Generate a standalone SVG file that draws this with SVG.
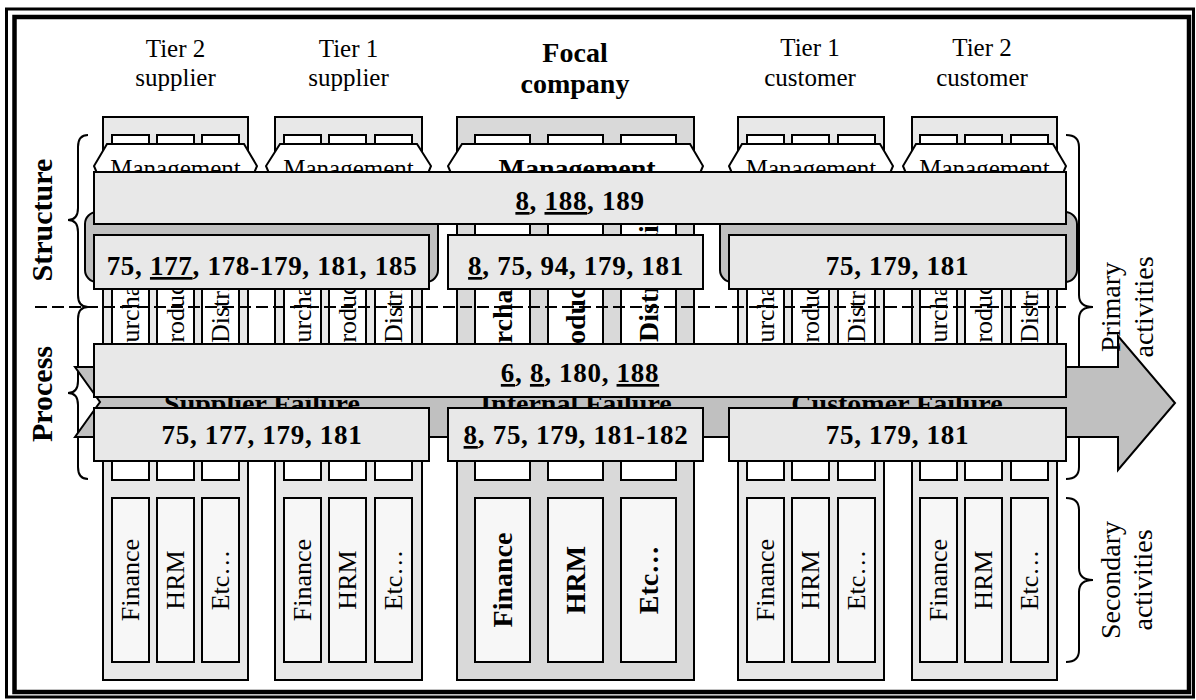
<svg xmlns="http://www.w3.org/2000/svg" width="1196" height="700" viewBox="0 0 1196 700">
<style>
text{font-family:"Liberation Serif","Times New Roman",serif;fill:#000}
.lbl{font-size:25px;text-anchor:middle}
.lblb{font-size:28px;font-weight:bold;text-anchor:middle}
.side{font-size:30px;font-weight:bold;text-anchor:middle}
.act{font-size:28px;text-anchor:middle}
.col{fill:#e8e8e8;stroke:#000;stroke-width:2}
.colf{fill:#d9d9d9;stroke:#000;stroke-width:2}
.sub{fill:#fff;stroke:#000;stroke-width:2}
.fin{fill:#f7f7f7;stroke:#000;stroke-width:2}
.mgmt{fill:#fff;stroke:#000;stroke-width:2}
.st{font-size:26px}
.stb{font-size:28px;font-weight:bold}
.mt{font-size:25px;text-anchor:middle}
.mtb{font-size:28px;font-weight:bold;text-anchor:middle}
.ft{font-size:26px;text-anchor:middle}
.ftb{font-size:28px;font-weight:bold;text-anchor:middle}
.band{fill:#e8e8e8;stroke:#000;stroke-width:2}
.bt{font-size:27px;font-weight:bold;text-anchor:middle;letter-spacing:0.7px}
.grey{fill:#c0c0c0;stroke:#000;stroke-width:2}
.fail{font-size:28px;font-weight:bold;text-anchor:middle}
.brace{fill:none;stroke:#000;stroke-width:2}
</style>

<g id="frame" fill="none" stroke="#000">
<rect x="6.5" y="9" width="1187" height="688" stroke-width="3"/>
<rect x="14.5" y="17" width="1174.5" height="675" stroke-width="4.5"/>
</g>

<g id="headers">
<text class="lbl" x="175.5" y="57">Tier 2</text>
<text class="lbl" x="175.5" y="86">supplier</text>
<text class="lbl" x="348.5" y="57">Tier 1</text>
<text class="lbl" x="348.5" y="86">supplier</text>
<text class="lblb" x="575" y="62">Focal</text>
<text class="lblb" x="575" y="93">company</text>
<text class="lbl" x="810" y="56">Tier 1</text>
<text class="lbl" x="810" y="86">customer</text>
<text class="lbl" x="982" y="56">Tier 2</text>
<text class="lbl" x="982" y="86">customer</text>
</g>

<g id="braces" class="brace">
<path class="brace" d="M88,135 Q78,135 78,147 L78,208 Q78,220 68,220 Q78,220 78,232 L78,295 Q78,307 88,307"/>
<path class="brace" d="M88,307 Q78,307 78,319 L78,381 Q78,393 68,393 Q78,393 78,405 L78,467 Q78,479 88,479"/>
<path class="brace" d="M1066,135 Q1079,135 1079,147 L1079,295 Q1079,307 1093,307 Q1079,307 1079,319 L1079,467 Q1079,479 1066,479"/>
<path class="brace" d="M1066,498 Q1079,498 1079,510 L1079,568 Q1079,580 1093,580 Q1079,580 1079,592 L1079,650 Q1079,662 1066,662"/>
</g>

<g id="tier2-supplier">
<rect class="col" x="103" y="117" width="145" height="563"/>
<rect class="sub" x="112" y="135" width="37" height="345"/>
<rect class="sub" x="157" y="135" width="37" height="345"/>
<rect class="sub" x="202" y="135" width="37" height="345"/>
<text class="st" transform="translate(139,357) rotate(-90)">Purchase</text>
<text class="st" transform="translate(184,357) rotate(-90)">Production</text>
<text class="st" transform="translate(229,343) rotate(-90)">Distribution</text>
<rect class="fin" x="112" y="498" width="37" height="164"/>
<rect class="fin" x="157" y="498" width="37" height="164"/>
<rect class="fin" x="202" y="498" width="37" height="164"/>
<text class="ft" transform="translate(139,580) rotate(-90)">Finance</text>
<text class="ft" transform="translate(184,580) rotate(-90)">HRM</text>
<text class="ft" transform="translate(229,580) rotate(-90)">Etc…</text>
<path class="mgmt" d="M107,144 L244,144 L257,166 L252,178 L99,178 L94,166 Z"/>
<text class="mt" x="175.5" y="177">Management</text>
</g>

<g id="tier1-supplier">
<rect class="col" x="275" y="117" width="147" height="563"/>
<rect class="sub" x="284" y="135" width="37" height="345"/>
<rect class="sub" x="329" y="135" width="37" height="345"/>
<rect class="sub" x="375" y="135" width="37" height="345"/>
<text class="st" transform="translate(311,357) rotate(-90)">Purchase</text>
<text class="st" transform="translate(356,357) rotate(-90)">Production</text>
<text class="st" transform="translate(402,343) rotate(-90)">Distribution</text>
<rect class="fin" x="284" y="498" width="37" height="164"/>
<rect class="fin" x="329" y="498" width="37" height="164"/>
<rect class="fin" x="375" y="498" width="37" height="164"/>
<text class="ft" transform="translate(311,580) rotate(-90)">Finance</text>
<text class="ft" transform="translate(356,580) rotate(-90)">HRM</text>
<text class="ft" transform="translate(402,580) rotate(-90)">Etc…</text>
<path class="mgmt" d="M280,144 L417,144 L431,166 L426,178 L271,178 L266,166 Z"/>
<text class="mt" x="348.5" y="177">Management</text>
</g>

<g id="focal-company">
<rect class="colf" x="457" y="117" width="237" height="563"/>
<rect class="sub" x="475" y="135" width="55" height="345"/>
<rect class="sub" x="548" y="135" width="55" height="345"/>
<rect class="sub" x="621" y="135" width="55" height="345"/>
<text class="stb" transform="translate(512,376) rotate(-90)">Purchase</text>
<text class="stb" transform="translate(585,373) rotate(-90)">Production</text>
<text class="stb" transform="translate(658,342) rotate(-90)">Distribution</text>
<rect class="fin" x="475" y="498" width="55" height="164"/>
<rect class="fin" x="548" y="498" width="55" height="164"/>
<rect class="fin" x="621" y="498" width="55" height="164"/>
<text class="ftb" transform="translate(512,580) rotate(-90)">Finance</text>
<text class="ftb" transform="translate(585,580) rotate(-90)">HRM</text>
<text class="ftb" transform="translate(658,580) rotate(-90)">Etc…</text>
<path class="mgmt" d="M462,144 L690,144 L703,166 L698,178 L453,178 L448,166 Z"/>
<text class="mtb" x="577" y="178">Management</text>
</g>

<g id="tier1-customer">
<rect class="col" x="738" y="117" width="146" height="563"/>
<rect class="sub" x="747" y="135" width="37" height="345"/>
<rect class="sub" x="792" y="135" width="37" height="345"/>
<rect class="sub" x="838" y="135" width="37" height="345"/>
<text class="st" transform="translate(774,357) rotate(-90)">Purchase</text>
<text class="st" transform="translate(819,357) rotate(-90)">Production</text>
<text class="st" transform="translate(865,343) rotate(-90)">Distribution</text>
<rect class="fin" x="747" y="498" width="37" height="164"/>
<rect class="fin" x="792" y="498" width="37" height="164"/>
<rect class="fin" x="838" y="498" width="37" height="164"/>
<text class="ft" transform="translate(774,580) rotate(-90)">Finance</text>
<text class="ft" transform="translate(819,580) rotate(-90)">HRM</text>
<text class="ft" transform="translate(865,580) rotate(-90)">Etc…</text>
<path class="mgmt" d="M742,144 L880,144 L893,166 L888,178 L734,178 L729,166 Z"/>
<text class="mt" x="811" y="177">Management</text>
</g>

<g id="tier2-customer">
<rect class="col" x="912" y="117" width="145" height="563"/>
<rect class="sub" x="920" y="135" width="37" height="345"/>
<rect class="sub" x="965" y="135" width="37" height="345"/>
<rect class="sub" x="1011" y="135" width="37" height="345"/>
<text class="st" transform="translate(947,357) rotate(-90)">Purchase</text>
<text class="st" transform="translate(992,357) rotate(-90)">Production</text>
<text class="st" transform="translate(1038,343) rotate(-90)">Distribution</text>
<rect class="fin" x="920" y="498" width="37" height="164"/>
<rect class="fin" x="965" y="498" width="37" height="164"/>
<rect class="fin" x="1011" y="498" width="37" height="164"/>
<text class="ft" transform="translate(947,580) rotate(-90)">Finance</text>
<text class="ft" transform="translate(992,580) rotate(-90)">HRM</text>
<text class="ft" transform="translate(1038,580) rotate(-90)">Etc…</text>
<path class="mgmt" d="M916,144 L1053,144 L1066,166 L1061,178 L908,178 L903,166 Z"/>
<text class="mt" x="984.5" y="177">Management</text>
</g>

<g id="structure-backgrounds">
<rect class="grey" x="85" y="212" width="353" height="70" rx="12"/>
<rect class="grey" x="720" y="212" width="357" height="70" rx="12"/>
</g>

<g id="process-arrow">
<path class="grey" d="M75,367 L1118,367 L1118,336 L1175,403 L1118,470 L1118,437 L75,437 L100,402 Z"/>
<text class="fail" x="262" y="413">Supplier Failure</text>
<text class="fail" x="576" y="413">Internal Failure</text>
<text class="fail" x="897" y="413">Customer Failure</text>
</g>

<g id="side-labels">
<text class="side" transform="translate(52,220) rotate(-90)">Structure</text>
<text class="side" transform="translate(52,394) rotate(-90)">Process</text>
<text class="act" transform="translate(1120,307) rotate(-90)">Primary</text>
<text class="act" transform="translate(1153,307) rotate(-90)">activities</text>
<text class="act" transform="translate(1120,580) rotate(-90)">Secondary</text>
<text class="act" transform="translate(1152,580) rotate(-90)">activities</text>
</g>

<g id="dashed-divider">
<line x1="35" y1="307" x2="1066" y2="307" stroke="#000" stroke-width="2" stroke-dasharray="12 5"/>
</g>

<g id="band-structure-all">
<rect class="band" x="94" y="172" width="972" height="52"/>
<text class="bt" x="580" y="210"><tspan text-decoration="underline">8</tspan>, <tspan text-decoration="underline">188</tspan>, 189</text>
</g>
<g id="band-structure-supplier">
<rect class="band" x="94" y="235" width="335" height="54"/>
<text class="bt" x="262" y="275">75, <tspan text-decoration="underline">177</tspan>, 178-179, 181, 185</text>
</g>
<g id="band-structure-focal">
<rect class="band" x="448" y="235" width="255" height="54"/>
<text class="bt" x="576" y="275"><tspan text-decoration="underline">8</tspan>, 75, 94, 179, 181</text>
</g>
<g id="band-structure-customer">
<rect class="band" x="729" y="235" width="337" height="54"/>
<text class="bt" x="897.5" y="275">75, 179, 181</text>
</g>
<g id="band-process-all">
<rect class="band" x="94" y="344" width="972" height="53"/>
<text class="bt" x="580" y="382"><tspan text-decoration="underline">6</tspan>, <tspan text-decoration="underline">8</tspan>, 180, <tspan text-decoration="underline">188</tspan></text>
</g>
<g id="band-process-supplier">
<rect class="band" x="94" y="408" width="335" height="53"/>
<text class="bt" x="262" y="444">75, 177, 179, 181</text>
</g>
<g id="band-process-focal">
<rect class="band" x="448" y="408" width="255" height="53"/>
<text class="bt" x="576" y="444"><tspan text-decoration="underline">8</tspan>, 75, 179, 181-182</text>
</g>
<g id="band-process-customer">
<rect class="band" x="729" y="408" width="337" height="53"/>
<text class="bt" x="897.5" y="444">75, 179, 181</text>
</g>
</svg>
